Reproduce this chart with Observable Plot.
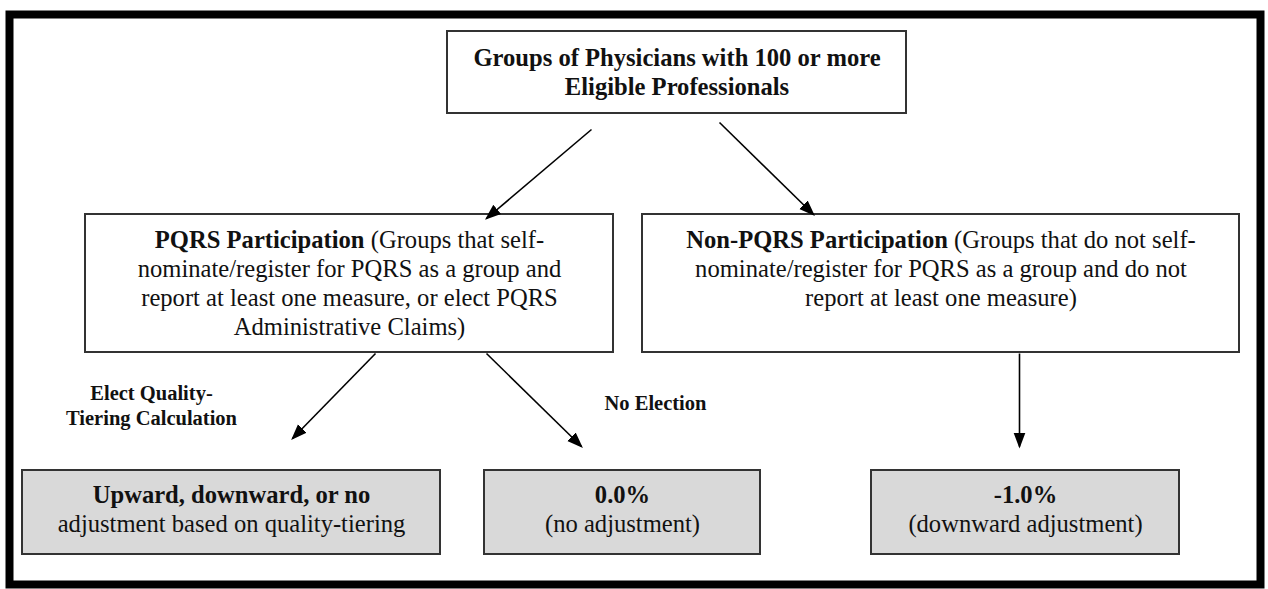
<!DOCTYPE html>
<html><head><meta charset="utf-8">
<script src="https://cdn.jsdelivr.net/npm/d3@7"></script>
<script src="https://cdn.jsdelivr.net/npm/@observablehq/plot@0.6"></script>
<style>html,body{margin:0;padding:0;background:#fff;}</style>
</head><body><div id="chart"></div>
<script>
// ---- content (text) ----
const nodeIds = ["top", "pqrs", "non", "tier", "zero", "minus"];
const nodeBold = [
  "Groups of Physicians with 100 or more\nEligible Professionals",
  "PQRS Participation",
  "Non-PQRS Participation",
  "Upward, downward, or no",
  "0.0%",
  "-1.0%"
];
const nodeRest = [
  "",
  " (Groups that self-\nnominate/register for PQRS as a group and\nreport at least one measure, or elect PQRS\nAdministrative Claims)",
  " (Groups that do not self-\nnominate/register for PQRS as a group and do not\nreport at least one measure)",
  "adjustment based on quality-tiering",
  "(no adjustment)",
  "(downward adjustment)"
];
const edgeFrom = ["top", "top", "pqrs", "pqrs", "non"];
const edgeTo = ["pqrs", "non", "tier", "zero", "minus"];
const edgeLabels = ["", "", "Elect Quality-\nTiering Calculation", "No Election", ""];

// ---- layout (pixel space of the diagram) ----
const W = 1268, H = 589;
const layout = {
  top:   {x1: 447, x2: 906, y1: 31, y2: 113, fill: "white", firstY: 58},
  pqrs:  {x1: 85,  x2: 613, y1: 214, y2: 352, fill: "white", firstY: 240},
  non:   {x1: 642, x2: 1239, y1: 214, y2: 352, fill: "white", firstY: 240},
  tier:  {x1: 22,  x2: 440, y1: 470, y2: 554, fill: "#d9d9d9", firstY: 495},
  zero:  {x1: 484, x2: 760, y1: 470, y2: 554, fill: "#d9d9d9", firstY: 495},
  minus: {x1: 871, x2: 1179, y1: 470, y2: 554, fill: "#d9d9d9", firstY: 495}
};
const edgeGeom = [
  {x1: 591, y1: 129, x2: 486, y2: 218},
  {x1: 719, y1: 122, x2: 813, y2: 214},
  {x1: 375, y1: 353, x2: 292, y2: 438},
  {x1: 486, y1: 353, x2: 581, y2: 446},
  {x1: 1019, y1: 353, x2: 1019, y2: 446}
];
const labelPos = [null, null, {x: 151, y: 393}, {x: 655, y: 403}, null];

const FONT = "'Liberation Serif', 'Times New Roman', serif";
const FS = 24.6, LH = 29, LFS = 20.5, LLH = 25;

const canvas = document.createElement("canvas");
const ctx = canvas.getContext("2d");
function measure(t, bold, size) {
  ctx.font = `${bold ? "bold " : ""}${size}px 'Liberation Serif'`;
  return ctx.measureText(t).width;
}

// Build tables for marks
const boxes = nodeIds.map(id => ({id, ...layout[id]}));
const textRows = [];
nodeIds.forEach((id, i) => {
  const L = layout[id];
  const cx = (L.x1 + L.x2) / 2;
  const boldLines = nodeBold[i].split("\n");
  let restLines = nodeRest[i] ? nodeRest[i].split("\n") : [];
  let row = 0;
  const inline = restLines.length && nodeRest[i].startsWith(" ");
  boldLines.forEach((b, k) => {
    const y = L.firstY + LH * row;
    if (k === boldLines.length - 1 && inline) {
      const r = restLines.shift();
      const wb = measure(b, true, FS), wr = measure(r, false, FS);
      const start = cx - (wb + wr) / 2;
      textRows.push({x: start, y, t: b, bold: true, anchor: "start"});
      textRows.push({x: start + wb, y, t: r, bold: false, anchor: "start"});
    } else {
      textRows.push({x: cx, y, t: b, bold: true, anchor: "middle"});
    }
    row++;
  });
  restLines.forEach(r => {
    textRows.push({x: cx, y: L.firstY + LH * row, t: r, bold: false, anchor: "middle"});
    row++;
  });
});
const edges = edgeFrom.map((f, i) => ({from: f, to: edgeTo[i], ...edgeGeom[i]}));
const labels = [];
edgeLabels.forEach((lab, i) => {
  if (!lab) return;
  lab.split("\n").forEach((t, k) => labels.push({x: labelPos[i].x, y: labelPos[i].y + k * LLH, t}));
});

function filledArrow(color, context) {
  const m = d3.create("svg:marker")
    .attr("viewBox", "-8 -8 16 16")
    .attr("markerUnits", "userSpaceOnUse")
    .attr("markerWidth", 16).attr("markerHeight", 16)
    .attr("refX", 6).attr("refY", 0)
    .attr("orient", "auto");
  m.append("path").attr("d", "M-8,-6L8,0L-8,6Z").attr("fill", "#000").attr("stroke", "none");
  return m.node();
}

const chart = Plot.plot({
  width: W, height: H,
  margin: 0,
  x: {domain: [0, W], range: [0, W], axis: null},
  y: {domain: [0, H], range: [0, H], axis: null},
  style: {fontFamily: FONT, background: "white"},
  marks: [
    Plot.rect(boxes, {x1: "x1", x2: "x2", y1: "y1", y2: "y2", fill: "fill", stroke: "#333", strokeWidth: 2}),
    Plot.link(edges, {x1: "x1", y1: "y1", x2: "x2", y2: "y2", stroke: "#000", strokeWidth: 1.6, markerEnd: filledArrow}),
    Plot.text(textRows.filter(d => d.bold && d.anchor === "middle"), {x: "x", y: "y", text: "t", fontWeight: "bold", fontSize: FS, fill: "#111", textAnchor: "middle"}),
    Plot.text(textRows.filter(d => d.bold && d.anchor === "start"), {x: "x", y: "y", text: "t", fontWeight: "bold", fontSize: FS, fill: "#111", textAnchor: "start"}),
    Plot.text(textRows.filter(d => !d.bold && d.anchor === "start"), {x: "x", y: "y", text: "t", fontSize: FS, fill: "#111", textAnchor: "start"}),
    Plot.text(textRows.filter(d => !d.bold && d.anchor === "middle"), {x: "x", y: "y", text: "t", fontSize: FS, fill: "#111", textAnchor: "middle"}),
    Plot.text(labels, {x: "x", y: "y", text: "t", fontWeight: "bold", fontSize: LFS, fill: "#111", textAnchor: "middle"}),
    Plot.frame({stroke: "#000", strokeWidth: 8, insetLeft: 9, insetTop: 14, insetRight: 8, insetBottom: 5})
  ]
});
document.getElementById("chart").appendChild(chart);
</script>
</body></html>
